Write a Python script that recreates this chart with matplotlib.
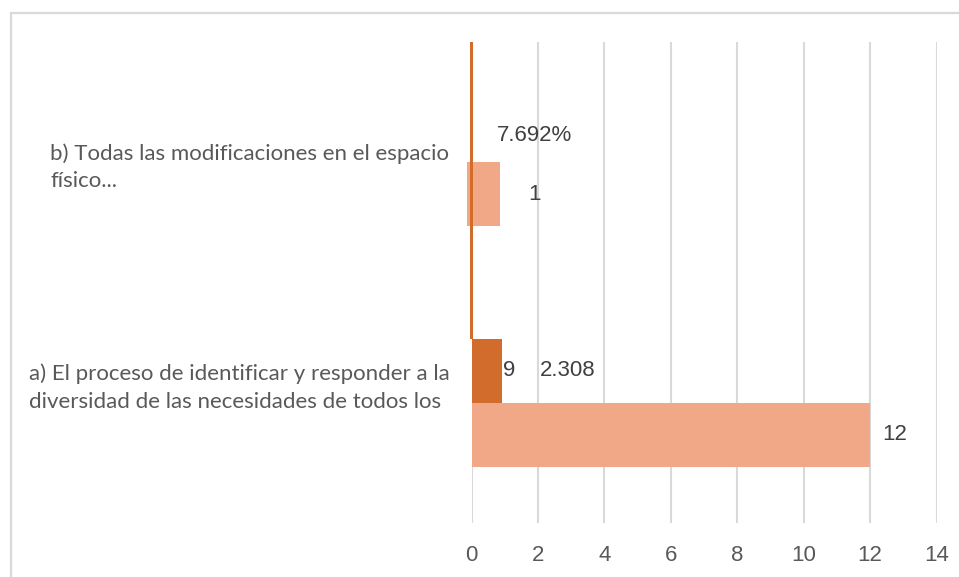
import matplotlib.pyplot as plt
from matplotlib.patches import Rectangle
from matplotlib.transforms import blended_transform_factory

# data
categories = ['a) El proceso de identificar y responder a la\ndiversidad de las necesidades de todos los',
              'b) Todas las modificaciones en el espacio\nfísico...']
counts = [12, 1]
shares = [0.92308, 0.07692]
share_labels = ['9', '7.692%']
share_labels_extra = ['2.308', '']
count_labels = ['12', '1']
ticks = [0, 2, 4, 6, 8, 10, 12, 14]

dark = '#D26C2D'
light = '#F1A887'
grid_c = '#D9D9D9'
txt_c = '#595959'
lbl_c = '#404040'

fig = plt.figure(figsize=(9.59, 5.77), dpi=100)
fig.patches.append(Rectangle((11/959, -0.1), 1.2, 1.1 - 13/577, transform=fig.transFigure,
                             fill=False, edgecolor=grid_c, linewidth=1.6))
ax = fig.add_axes([471.5/959, 54/577, 465/959, 481/577])

h = 0.266
# category a: normal grouped bars
ax.barh(0 + h/2, shares[0], height=h, color=dark, zorder=3)
ax.barh(0 - h/2, counts[0], height=h, color=light, zorder=3)
# category b: glitchy rendering as in the reference
ax.barh(1 - h/2, counts[1], height=h, left=-0.15, color=light, zorder=3, clip_on=False)
ax.bar(0, 1.5 - h, width=0.12, bottom=h, color=dark, zorder=4, clip_on=False)

ax.set_xlim(0, 14)
ax.set_ylim(-0.5, 1.5)
ax.set_xticks(ticks)
ax.set_xticklabels([str(t) for t in ticks], fontfamily='Liberation Sans', fontsize=16, color=txt_c)
ax.tick_params(axis='x', length=0, pad=16)
ax.set_yticks([])
ax.grid(axis='x', color=grid_c, linewidth=1.5, zorder=0)
for s in ax.spines.values():
    s.set_visible(False)

lab = dict(fontfamily='Liberation Sans', fontsize=16, color=lbl_c, va='center',
           textcoords='offset pixels', zorder=5)
ax.annotate(count_labels[0], xy=(counts[0], -h/2), xytext=(12, 0), ha='left', **lab)
ax.annotate(count_labels[1], xy=(counts[1] - 0.15, 1 - h/2), xytext=(29, 0), ha='left', **lab)
ax.annotate(share_labels[1], xy=(shares[1], 1 + h/2), xytext=(23, -5), ha='left', **lab)
ax.annotate(share_labels[0], xy=(shares[0], h/2), xytext=(1, 0), ha='left', **lab)
ax.annotate(share_labels_extra[0], xy=(shares[0], h/2), xytext=(38, 0), ha='left', **lab)

tr = blended_transform_factory(ax.transAxes, ax.transData)
offs = [15, -5]
for i, c in enumerate(categories):
    ax.annotate(c, xy=(0, i), xycoords=tr, xytext=(-22, offs[i]), textcoords='offset pixels',
                ha='right', va='center', multialignment='left', fontfamily='Lato',
                fontsize=16, color=txt_c, linespacing=1.45)

fig.savefig('out.png', dpi=100)
